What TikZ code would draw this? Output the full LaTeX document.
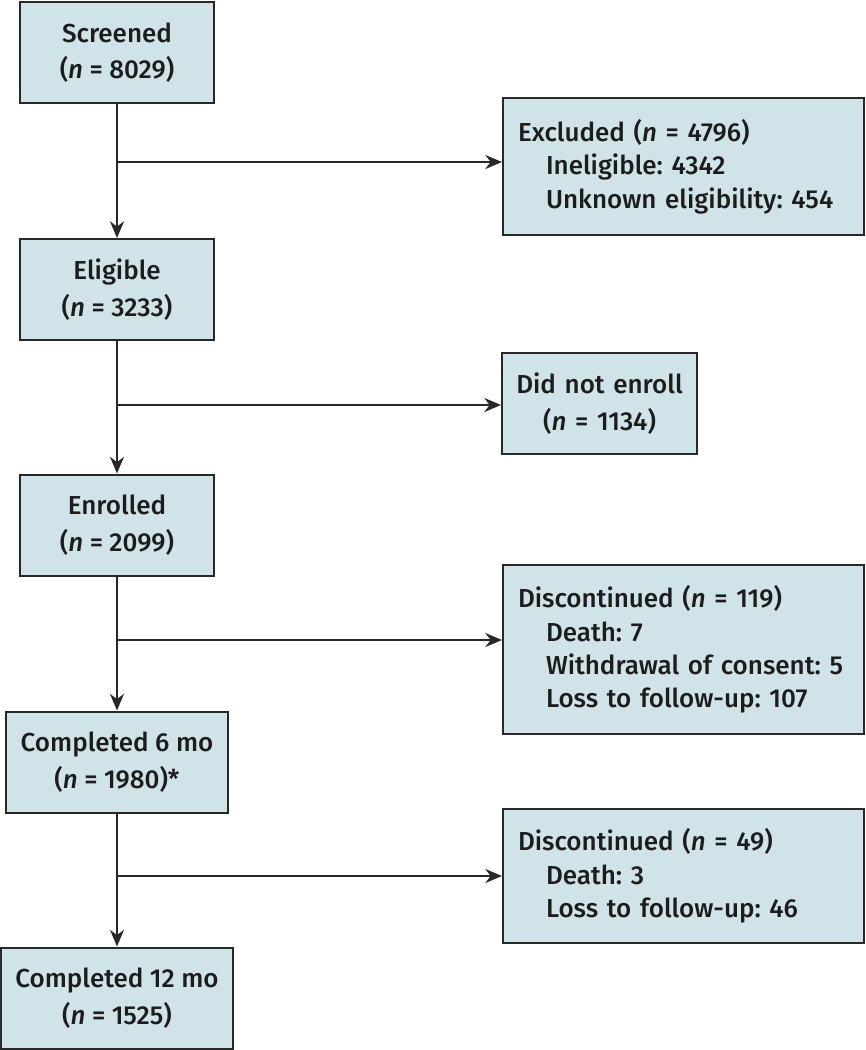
\documentclass[tikz,border=0pt]{standalone}
\usepackage{fontspec}
\setmainfont{Fira Sans}[UprightFont={Fira Sans Medium}, ItalicFont={Fira Sans Medium Italic}]
\usepackage{xcolor}
\usepackage{tikz}
\usetikzlibrary{
    arrows.meta,
    positioning,
    calc
}
\frenchspacing
\definecolor{boxfill}{RGB}{207,227,232}
\definecolor{boxline}{RGB}{40,40,40}
\definecolor{inktext}{RGB}{28,28,28}
\tikzset{
    stagebox/.style={
        draw=boxline,
        fill=boxfill,
        rectangle,
        line width=1.5pt,
        minimum width=145.5pt,
        minimum height=75.75pt,
        inner sep=0pt,
        align=center,
        text=inktext,
        font=\fontsize{19.5pt}{27.5pt}\selectfont
    },
    outbox/.style={
        draw=boxline,
        fill=boxfill,
        rectangle,
        line width=1.5pt,
        anchor=north west,
        minimum width=270.75pt,
        text width=248.25pt,
        inner xsep=11.25pt,
        inner ysep=0pt,
        align=left,
        text=inktext,
        font=\fontsize{19.5pt}{25pt}\selectfont
    },
    arr/.style={
        -{Stealth[length=12.5pt,width=10.5pt,inset=4pt]},
        line width=1.5pt,
        draw=boxline
    }
}
\newcommand{\nn}{\textit{n}}
\newcommand{\ind}{\hspace*{21pt}}

\begin{document}
\begin{tikzpicture}[x=0.75pt,y=-0.75pt]
\useasboundingbox (0,0) rectangle (865,1050);
% main column
\node[stagebox] (scr) at (117,52.5) {Screened\\(\nn{} = 8029)};
\node[stagebox] (elig) at (117,289.5) {Eligible\\(\nn{} = 3233)};
\node[stagebox] (enr) at (117,525) {Enrolled\\(\nn{} = 2099)};
\node[stagebox, minimum width=166.5pt] (six) at (117,762) {Completed 6 mo\\(\nn{} = 1980)*};
\node[stagebox, minimum width=174pt] (twelve) at (117,998) {Completed 12 mo\\(\nn{} = 1525)};
% side boxes
\node[outbox, minimum height=102.75pt] (excl) at (502,97) {Excluded (\nn{} = 4796)\\\ind Ineligible: 4342\\\ind Unknown eligibility: 454};
\node[outbox, minimum width=146.25pt, text width=140pt, inner xsep=3pt, minimum height=75.75pt, align=center, font=\fontsize{19.5pt}{27.5pt}\selectfont] (noenr) at (501,352) {Did not enroll\\(\nn{} = 1134)};
\node[outbox, minimum height=126.75pt] (disc1) at (502,564) {Discontinued (\nn{} = 119)\\\ind Death: 7\\\ind Withdrawal of consent: 5\\\ind Loss to follow-up: 107};
\node[outbox, minimum height=100.5pt] (disc2) at (502,808) {Discontinued (\nn{} = 49)\\\ind Death: 3\\\ind Loss to follow-up: 46};
% branch points
\coordinate (b1) at (117,162);
\coordinate (b2) at (117,405);
\coordinate (b3) at (117,640);
\coordinate (b4) at (117,876);
\draw[arr] (scr) -- (elig);
\draw[arr] (elig) -- (enr);
\draw[arr] (enr) -- (six);
\draw[arr] (six) -- (twelve);
\draw[arr] (b1) -- (b1 -| excl.west);
\draw[arr] (b2) -- (b2 -| noenr.west);
\draw[arr] (b3) -- (b3 -| disc1.west);
\draw[arr] (b4) -- (b4 -| disc2.west);
\end{tikzpicture}
\end{document}
